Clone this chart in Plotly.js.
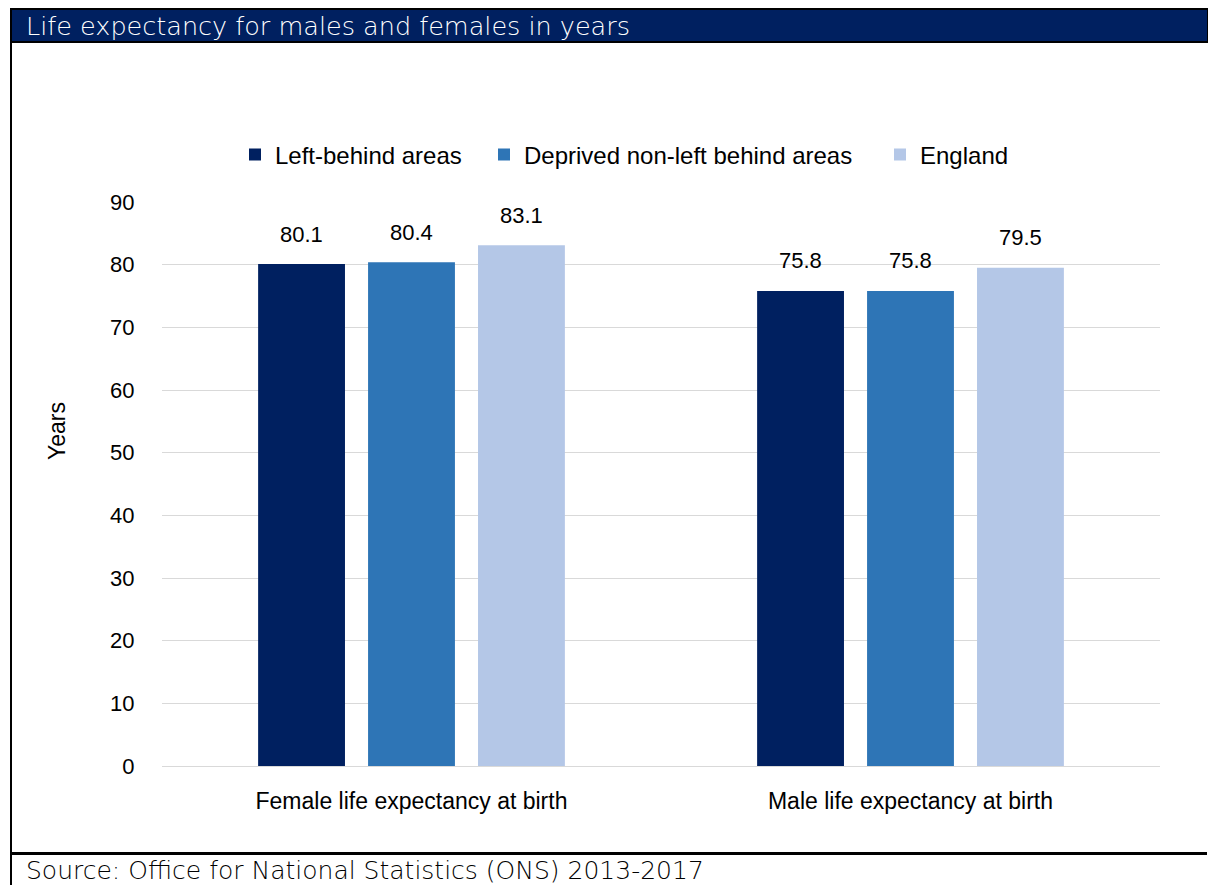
<!DOCTYPE html>
<html>
<head>
<meta charset="utf-8">
<script src="https://cdn.plot.ly/plotly-3.0.1.min.js"></script>
<style>
html,body{margin:0;padding:0;background:#fff;}
#chart{width:1208px;height:885px;}
</style>
</head>
<body>
<div id="chart"></div>
<script>
// ---- data ----
var categories = ["Female life expectancy at birth", "Male life expectancy at birth"];
var seriesNames = ["Left-behind areas", "Deprived non-left behind areas", "England"];
var leftBehind = [80.1, 75.8];
var deprivedNonLeftBehind = [80.4, 75.8];
var england = [83.1, 79.5];
var yTicks = [0, 10, 20, 30, 40, 50, 60, 70, 80, 90];
var chartTitle = "Life expectancy for males and females in years";
var sourceNote = "Source: Office for National Statistics (ONS) 2013-2017";
var yTitle = "Years";

// ---- styles ----
var colors = ["#002060", "#2E75B6", "#B4C7E7"];
var FONT = "Liberation Sans, Arial, sans-serif";
var HFONT = "DejaVu Sans, sans-serif";
var W = 1208, H = 885;
var M = {l: 162, r: 48, t: 202, b: 119};
var PW = W - M.l - M.r, PH = H - M.t - M.b;
function px(x){ return (x - M.l) / PW; }
function py(y){ return (H - M.b - y) / PH; }

var legendIds = ["legend", "legend2", "legend3"];
var legendX = [235, 484, 880];

var seriesValues = [leftBehind, deprivedNonLeftBehind, england];
var traces = seriesValues.map(function(vals, i){
  return {
    type: "bar",
    name: seriesNames[i],
    x: categories,
    y: vals,
    legend: legendIds[i],
    marker: {color: colors[i], line: {width: 0}},
    hoverinfo: "none"
  };
});

var annotations = [];
seriesValues.forEach(function(vals, i){
  vals.forEach(function(v, j){
    annotations.push({
      xref: "x", yref: "y", x: categories[j], y: v,
      text: v.toFixed(1), showarrow: false,
      xshift: (i - 1) * 110, yshift: 30, yanchor: "middle",
      font: {family: FONT, size: 22, color: "#000"}
    });
  });
});
annotations.push({
  xref: "paper", yref: "paper", x: px(24), y: py(26), xanchor: "left", yanchor: "middle",
  text: chartTitle, showarrow: false,
  font: {family: HFONT, size: 25.5, weight: 200, color: "#ffffff"}
});
annotations.push({
  xref: "paper", yref: "paper", x: px(24), y: py(870), xanchor: "left", yanchor: "middle",
  text: sourceNote, showarrow: false,
  font: {family: HFONT, size: 25, weight: 200, color: "#000"}
});
annotations.push({
  xref: "paper", yref: "paper", x: px(57), y: py(431), xanchor: "center", yanchor: "middle",
  text: yTitle, showarrow: false, textangle: -90,
  font: {family: FONT, size: 23, color: "#000"}
});

var shapes = [
  {type: "rect", xref: "paper", yref: "paper", x0: px(10), x1: px(1208), y0: py(8), y1: py(43),
   fillcolor: "#000000", line: {width: 0}, layer: "below"},
  {type: "rect", xref: "paper", yref: "paper", x0: px(12), x1: px(1207), y0: py(10), y1: py(41),
   fillcolor: "#002060", line: {width: 0}, layer: "below"},
  {type: "rect", xref: "paper", yref: "paper", x0: px(10), x1: px(12), y0: py(8), y1: py(885),
   fillcolor: "#000000", line: {width: 0}, layer: "below"},
  {type: "rect", xref: "paper", yref: "paper", x0: px(10), x1: px(1207), y0: py(852), y1: py(855),
   fillcolor: "#000000", line: {width: 0}, layer: "below"}
];

var layout = {
  width: W, height: H,
  margin: M,
  paper_bgcolor: "#ffffff", plot_bgcolor: "#ffffff",
  font: {family: FONT, size: 22, color: "#000"},
  barmode: "group",
  bargap: 0.339,
  bargroupgap: 0.21,
  showlegend: true,
  xaxis: {
    type: "category", showgrid: false, zeroline: false, showline: false,
    ticks: "outside", ticklen: 14, tickcolor: "rgba(0,0,0,0)",
    tickfont: {family: FONT, size: 23, color: "#000"}, fixedrange: true
  },
  yaxis: {
    range: [0, 90], tickvals: yTicks, ticktext: yTicks.map(String),
    showgrid: true, gridcolor: "#d9d9d9", gridwidth: 1,
    zeroline: true, zerolinecolor: "#d9d9d9", zerolinewidth: 1,
    showline: false, ticks: "outside", ticklen: 22, tickcolor: "rgba(0,0,0,0)",
    tickfont: {family: FONT, size: 22, color: "#000"}, fixedrange: true
  },
  shapes: shapes,
  annotations: annotations
};
legendIds.forEach(function(id, i){
  layout[id] = {
    orientation: "h", x: px(legendX[i]), y: py(155), xanchor: "left", yanchor: "middle",
    font: {family: FONT, size: 24, color: "#000"},
    bgcolor: "rgba(0,0,0,0)", itemclick: false, itemdoubleclick: false
  };
});

Plotly.newPlot("chart", traces, layout, {displayModeBar: false, staticPlot: true});
</script>
</body>
</html>
